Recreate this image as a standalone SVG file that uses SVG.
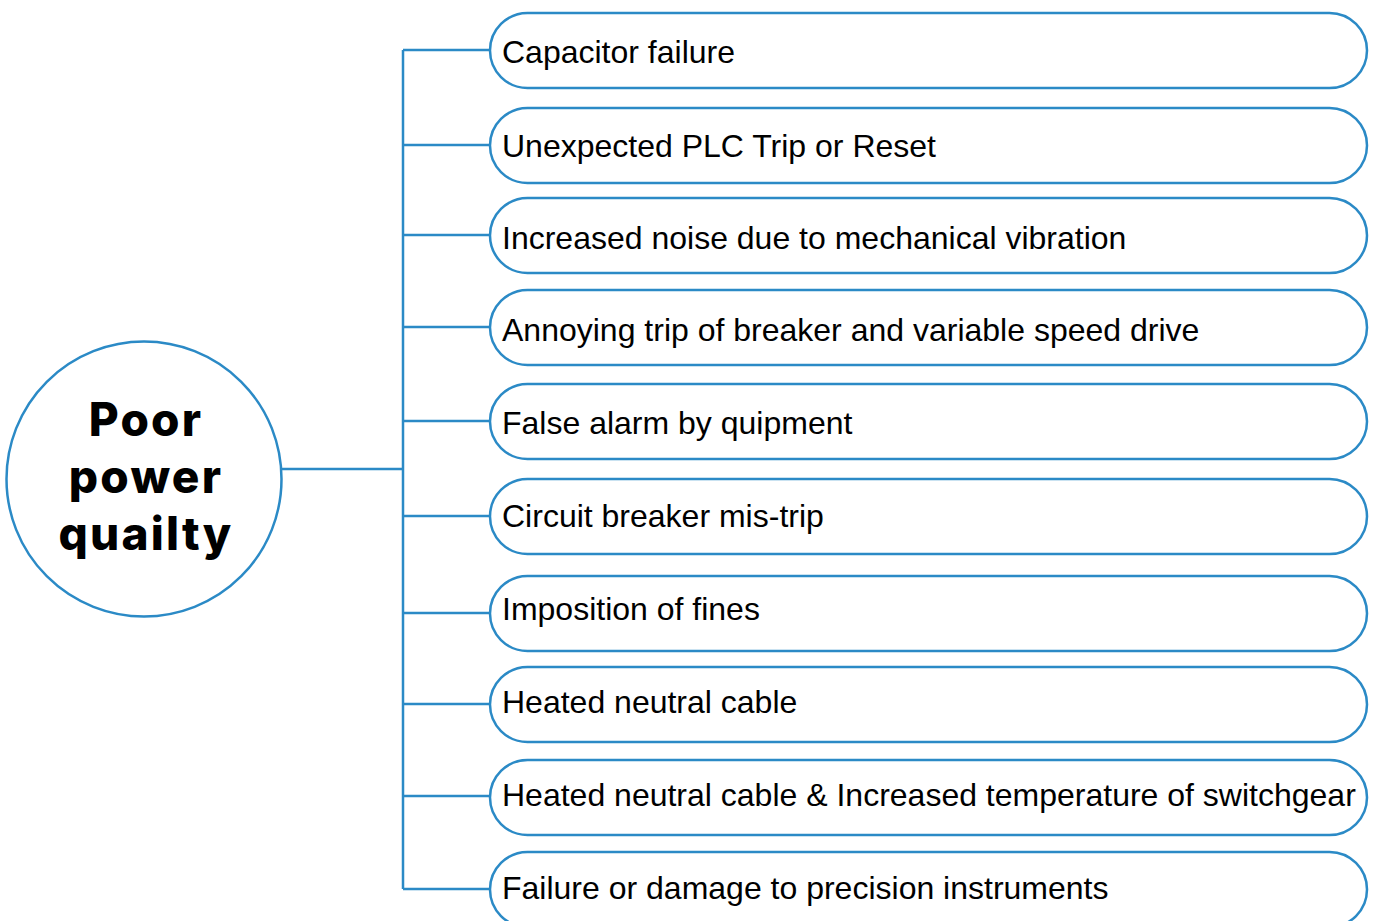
<svg xmlns="http://www.w3.org/2000/svg" width="1376" height="921" viewBox="0 0 1376 921">
<style>
.pill{fill:#fff;stroke:#2B8AC6;stroke-width:2.5}
.conn{fill:none;stroke:#2B8AC6;stroke-width:2.5}
.t{font-family:"Liberation Sans",Arial,sans-serif;font-size:32px;fill:#000}
.c{font-family:Inter,"Open Sans",sans-serif;font-weight:800;font-size:46px;letter-spacing:2.2px;fill:#000;text-anchor:middle}
</style>
<rect width="1376" height="921" fill="#fff"/>
<g id="connectors">
<path class="conn" d="M282 469H403M403 50V889M403 50H490M403 145H490M403 235H490M403 327H490M403 421H490M403 516H490M403 613H490M403 704H490M403 796H490M403 889H490"/>
</g>
<g id="root">
<circle cx="144" cy="479" r="137.5" fill="#fff" stroke="#2B8AC6" stroke-width="2.5"/>
<text class="c" x="146" y="436">Poor</text>
<text class="c" x="146" y="493">power</text>
<text class="c" x="146" y="550">quailty</text>
</g>
<g id="n1"><rect class="pill" x="490" y="13" width="877" height="75" rx="37.5"/><text class="t" x="502" y="63">Capacitor failure</text></g>
<g id="n2"><rect class="pill" x="490" y="108" width="877" height="75" rx="37.5"/><text class="t" x="502" y="157">Unexpected PLC Trip or Reset</text></g>
<g id="n3"><rect class="pill" x="490" y="198" width="877" height="75" rx="37.5"/><text class="t" x="502" y="249">Increased noise due to mechanical vibration</text></g>
<g id="n4"><rect class="pill" x="490" y="290" width="877" height="75" rx="37.5"/><text class="t" x="502" y="341">Annoying trip of breaker and variable speed drive</text></g>
<g id="n5"><rect class="pill" x="490" y="384" width="877" height="75" rx="37.5"/><text class="t" x="502" y="434">False alarm by quipment</text></g>
<g id="n6"><rect class="pill" x="490" y="479" width="877" height="75" rx="37.5"/><text class="t" x="502" y="527">Circuit breaker mis-trip</text></g>
<g id="n7"><rect class="pill" x="490" y="576" width="877" height="75" rx="37.5"/><text class="t" x="502" y="620">Imposition of fines</text></g>
<g id="n8"><rect class="pill" x="490" y="667" width="877" height="75" rx="37.5"/><text class="t" x="502" y="713">Heated neutral cable</text></g>
<g id="n9"><rect class="pill" x="490" y="760" width="877" height="75" rx="37.5"/><text class="t" x="502" y="806">Heated neutral cable &amp; Increased temperature of switchgear</text></g>
<g id="n10"><rect class="pill" x="490" y="852" width="877" height="75" rx="37.5"/><text class="t" x="502" y="899">Failure or damage to precision instruments</text></g>
</svg>
